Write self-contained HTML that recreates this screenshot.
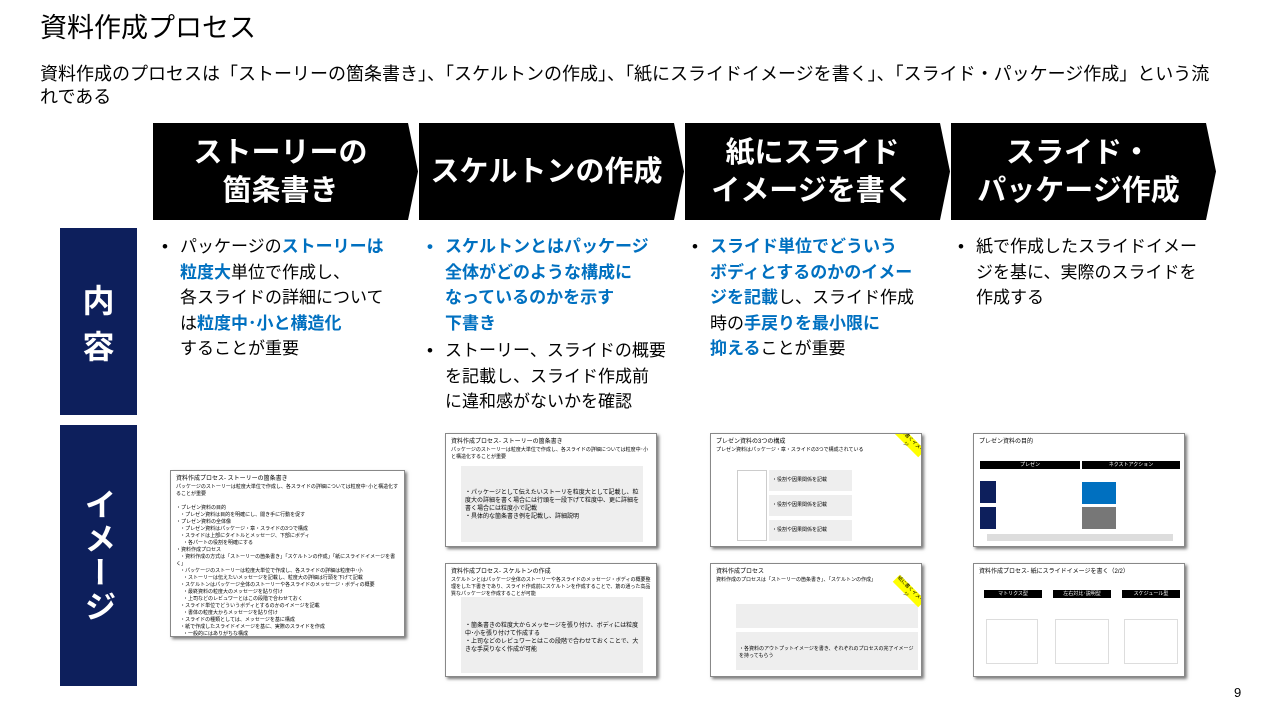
<!DOCTYPE html>
<html><head><meta charset="utf-8"><style>
*{margin:0;padding:0;box-sizing:border-box}
body{width:1274px;height:715px;background:#fff;position:relative;overflow:hidden;font-family:"Liberation Sans","Noto Sans CJK JP",sans-serif;color:#000}
.a{position:absolute}
.chev{position:absolute;top:123px;height:97px;width:265px;background:#000;clip-path:polygon(0 0,255px 0,265px 50%,255px 100%,0 100%);color:#fff;font-weight:bold;font-size:29px;line-height:38px;display:flex;align-items:center;justify-content:center;text-align:center;padding-right:10px}
.side{position:absolute;left:60px;width:77px;background:#0d1f5c;color:#fff;font-weight:bold;font-size:32px;display:flex;align-items:center;justify-content:center}
.col{position:absolute;top:234px;font-size:17px;line-height:25.5px;white-space:nowrap}
.col ul{list-style:none}
.col li{position:relative;padding-left:20px}
.col li:before{content:"•";position:absolute;left:2px}
.b{color:#0070c0;font-weight:bold}
.th{position:absolute;background:#fff;border:1px solid #888;box-shadow:2px 2px 3px #777;font-size:5px;line-height:7px;overflow:hidden;padding:4px 5px}
.th .t{font-size:6px;line-height:9px}
.gb{position:absolute;background:#eee}
.bl{position:absolute;background:#000;color:#fff;font-size:5px;text-align:center;line-height:8px}
</style></head><body>
<div class="a" style="left:40px;top:10px;font-size:27px;line-height:36px">資料作成プロセス</div>
<div class="a" style="left:40px;top:63px;font-size:18px;line-height:23px;width:1185px">資料作成のプロセスは「ストーリーの箇条書き」、「スケルトンの作成」、「紙にスライドイメージを書く」、「スライド・パッケージ作成」という流れである</div>

<div class="chev" style="left:153px">ストーリーの<br>箇条書き</div>
<div class="chev" style="left:419px">スケルトンの作成</div>
<div class="chev" style="left:685px">紙にスライド<br>イメージを書く</div>
<div class="chev" style="left:951px">スライド・<br>パッケージ作成</div>

<div class="side" style="top:228px;height:187px">内<br>容</div>
<div class="side" style="top:425px;height:261px;writing-mode:vertical-rl;letter-spacing:2px">イメージ</div>

<div class="col" style="left:160px"><ul><li>パッケージの<span class="b">ストーリーは</span><br><span class="b">粒度大</span>単位で作成し、<br>各スライドの詳細について<br>は<span class="b">粒度中･小と構造化</span><br>することが重要</li></ul></div>
<div class="col" style="left:425px"><ul><li class="b">スケルトンとはパッケージ<br>全体がどのような構成に<br>なっているのかを示す<br>下書き</li><li style="margin-top:2px">ストーリー、スライドの概要<br>を記載し、スライド作成前<br>に違和感がないかを確認</li></ul></div>
<div class="col" style="left:690px"><ul><li><span class="b">スライド単位でどういう<br>ボディとするのかのイメー<br>ジを記載</span>し、スライド作成<br>時の<span class="b">手戻りを最小限に<br>抑える</span>ことが重要</li></ul></div>
<div class="col" style="left:956px"><ul><li>紙で作成したスライドイメー<br>ジを基に、実際のスライドを<br>作成する</li></ul></div>

<div class="th" style="left:170px;top:470px;width:235px;height:167px"><div class="t">資料作成プロセス- ストーリーの箇条書き</div>パッケージのストーリーは粒度大単位で作成し、各スライドの詳細については粒度中･小と構造化することが重要<br><br>・プレゼン資料の目的<br>&nbsp;&nbsp;&nbsp;・プレゼン資料は目的を明確にし、聞き手に行動を促す<br>・プレゼン資料の全体像<br>&nbsp;&nbsp;&nbsp;・プレゼン資料はパッケージ・章・スライドの3つで構成<br>&nbsp;&nbsp;&nbsp;・スライドは上部にタイトルとメッセージ、下部にボディ<br>&nbsp;&nbsp;&nbsp;&nbsp;&nbsp;・各パートの役割を明確にする<br>・資料作成プロセス<br>&nbsp;&nbsp;&nbsp;・資料作成の方式は「ストーリーの箇条書き」「スケルトンの作成」「紙にスライドイメージを書く」<br>&nbsp;&nbsp;&nbsp;・パッケージのストーリーは粒度大単位で作成し、各スライドの詳細は粒度中･小<br>&nbsp;&nbsp;&nbsp;&nbsp;&nbsp;・ストーリーは伝えたいメッセージを記載し、粒度大の詳細は行頭を下げて記載<br>&nbsp;&nbsp;&nbsp;・スケルトンはパッケージ全体のストーリーや各スライドのメッセージ・ボディの概要<br>&nbsp;&nbsp;&nbsp;&nbsp;&nbsp;・最終資料の粒度大のメッセージを貼り付け<br>&nbsp;&nbsp;&nbsp;&nbsp;&nbsp;・上司などのレビュワーとはこの段階で合わせておく<br>&nbsp;&nbsp;&nbsp;・スライド単位でどういうボディとするのかのイメージを記載<br>&nbsp;&nbsp;&nbsp;&nbsp;&nbsp;・書体の粒度大からメッセージを貼り付け<br>&nbsp;&nbsp;&nbsp;・スライドの種類としては、メッセージを基に構成<br>&nbsp;&nbsp;&nbsp;・紙で作成したスライドイメージを基に、実際のスライドを作成<br>&nbsp;&nbsp;&nbsp;&nbsp;&nbsp;・一般的にはありがちな構成</div>

<div class="th" style="left:445px;top:433px;width:212px;height:114px"><div class="t">資料作成プロセス- ストーリーの箇条書き</div>パッケージのストーリーは粒度大単位で作成し、各スライドの詳細については粒度中･小と構造化することが重要<div class="gb" style="left:15px;top:32px;width:182px;height:76px;font-size:6px;line-height:8px;padding:23px 4px">・パッケージとして伝えたいストーリを粒度大として記載し、粒度大の詳細を書く場合には行頭を一段下げて粒度中、更に詳細を書く場合には粒度小で記載<br>・具体的な箇条書き例を記載し、詳細説明</div></div>
<div class="th" style="left:445px;top:563px;width:212px;height:114px"><div class="t">資料作成プロセス- スケルトンの作成</div>スケルトンとはパッケージ全体のストーリーや各スライドのメッセージ・ボディの概要整理をした下書きであり、スライド作成前にスケルトンを作成することで、筋の通った高品質なパッケージを作成することが可能<div class="gb" style="left:15px;top:33px;width:182px;height:76px;font-size:6px;line-height:8px;padding:25px 4px">・箇条書きの粒度大からメッセージを張り付け、ボディには粒度中･小を張り付けて作成する<br>・上司などのレビュワーとはこの段階で合わせておくことで、大きな手戻りなく作成が可能</div></div>

<div class="th" style="left:710px;top:433px;width:212px;height:114px"><div class="t">プレゼン資料の3つの構成</div>プレゼン資料はパッケージ・章・スライドの3つで構成されている
<div class="gb" style="left:58px;top:36px;width:83px;height:21px;font-size:5px;padding:7px 3px">・役割や因果関係を記載</div>
<div class="gb" style="left:58px;top:61px;width:83px;height:21px;font-size:5px;padding:7px 3px">・役割や因果関係を記載</div>
<div class="gb" style="left:58px;top:86px;width:83px;height:21px;font-size:5px;padding:7px 3px">・役割や因果関係を記載</div>
<div class="a" style="left:26px;top:36px;width:30px;height:71px;border:1px solid #ccc"></div>
<div class="a" style="left:180px;top:2px;width:36px;height:10px;background:#ff0;transform:rotate(45deg);font-size:5px;text-align:center">紙に書くイメージ</div></div>
<div class="th" style="left:710px;top:563px;width:212px;height:114px"><div class="t">資料作成プロセス</div>資料作成のプロセスは「ストーリーの箇条書き」、「スケルトンの作成」
<div class="gb" style="left:25px;top:40px;width:182px;height:24px"></div>
<div class="gb" style="left:25px;top:68px;width:182px;height:38px;font-size:5px;padding:14px 3px">・各資料のアウトプットイメージを書き、それぞれのプロセスの完了イメージを持ってもらう</div>
<div class="a" style="left:180px;top:22px;width:36px;height:10px;background:#ff0;transform:rotate(45deg);font-size:5px;text-align:center">紙に書くイメージ</div></div>

<div class="th" style="left:973px;top:433px;width:212px;height:114px"><div class="t">プレゼン資料の目的</div>
<div class="bl" style="left:6px;top:27px;width:100px">プレゼン</div><div class="bl" style="left:108px;top:27px;width:98px">ネクストアクション</div>
<div class="a" style="left:6px;top:47px;width:16px;height:22px;background:#0d1f5c"></div><div class="a" style="left:6px;top:73px;width:16px;height:22px;background:#0d1f5c"></div>
<div class="a" style="left:108px;top:48px;width:34px;height:22px;background:#0070c0"></div><div class="a" style="left:108px;top:73px;width:34px;height:22px;background:#777"></div>
<div class="gb" style="left:13px;top:100px;width:186px;height:7px;background:#ddd"></div></div>
<div class="th" style="left:973px;top:563px;width:212px;height:114px"><div class="t">資料作成プロセス- 紙にスライドイメージを書く（2/2）</div>
<div class="bl" style="left:10px;top:26px;width:58px">マトリクス型</div><div class="bl" style="left:79px;top:26px;width:58px">左右対比･説明型</div><div class="bl" style="left:148px;top:26px;width:58px">スケジュール型</div>
<div class="a" style="left:12px;top:55px;width:52px;height:45px;border:1px solid #ddd"></div><div class="a" style="left:81px;top:55px;width:54px;height:45px;border:1px solid #ddd"></div><div class="a" style="left:150px;top:55px;width:54px;height:45px;border:1px solid #ddd"></div></div>

<div class="a" style="left:1234px;top:685px;font-size:13px">9</div>
</body></html>
